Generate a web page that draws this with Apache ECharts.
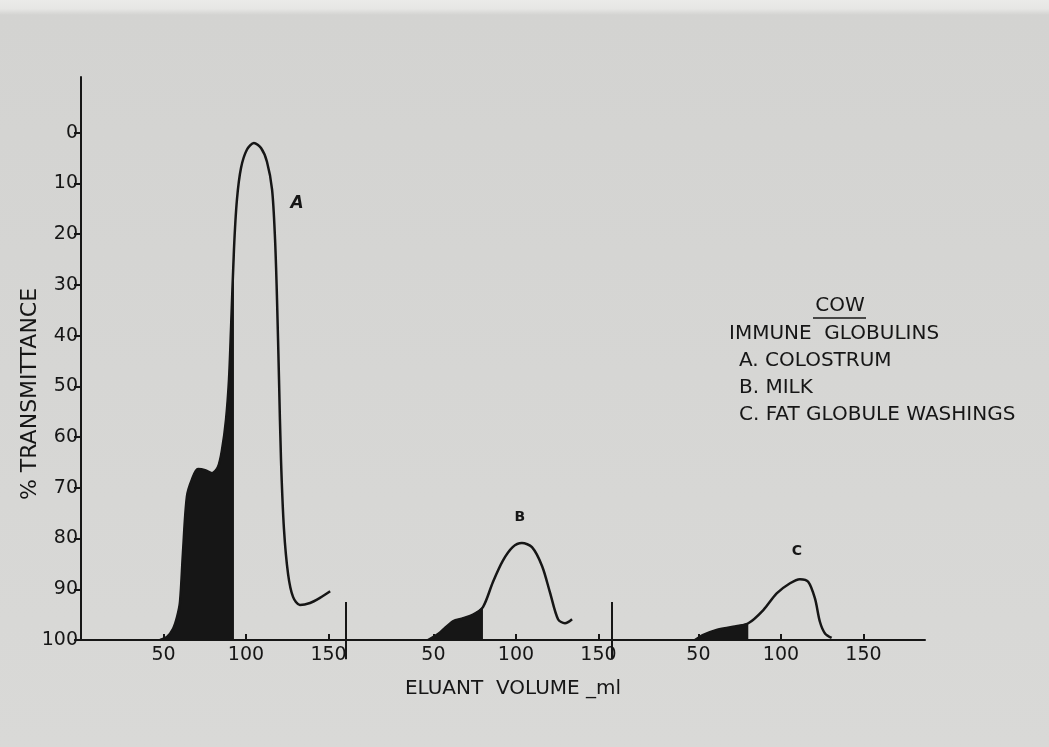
<!DOCTYPE html>
<html>
<head>
<meta charset="utf-8">
<script src="https://cdn.jsdelivr.net/npm/echarts@6/dist/echarts.min.js"></script>
<style>
	html, body { margin: 0; padding: 0; background: #d6d6d4; }
	#chart { width: 1049px; height: 747px; }
</style>
</head>
<body>
<div id="chart"></div>
<script>
	// elution curves, [eluant volume ml, % transmittance]
	var curveA = [
		[47.9, 100], [52.1, 99.4], [55.8, 97.8], [58.2, 95.5], [60, 92.5], [61.8, 82.7],
		[64.2, 71.7], [67.3, 68.3], [70.9, 66.3], [75.2, 66.5], [79.4, 67.1], [83, 65.9],
		[85.5, 62.4], [87.9, 56.5], [89.7, 48.6], [90.9, 38.8], [92.7, 23], [94.5, 13.2],
		[97, 6.9], [100.6, 3.3], [104.8, 2], [109.1, 3], [112.7, 5.7], [115.8, 11.2],
		[117.6, 21], [118.8, 32.9], [120, 48.6], [121.2, 64.4], [123, 78.1], [125.5, 87],
		[128.5, 91.5], [132.7, 93.1], [138.8, 92.7], [144.8, 91.7], [151, 90.4]
	];
	var curveB = [
		[46.7, 100], [54, 98.5], [61.8, 96.3], [68, 95.7], [74, 95], [80, 93.5],
		[86, 88.6], [92, 84.4], [98, 81.7], [103.6, 80.9], [109.7, 81.7], [115.8, 85.4],
		[120.6, 90.6], [125.5, 95.9], [129.7, 96.7], [134, 95.9]
	];
	var curveC = [
		[47.9, 100], [52.9, 99], [61, 98], [71, 97.4], [80.2, 96.7], [89.3, 94.1],
		[97.4, 90.8], [105.5, 88.8], [111.5, 88], [116.5, 88.5], [120.6, 91.8],
		[123.6, 96.4], [126.7, 98.7], [130.7, 99.6]
	];
	// shaded (black) fraction ends at this volume
	var shadeEnd = [92.7, 80, 80.2];
	var curveNames = ['A', 'B', 'C'];
	var namePos = [[131, 14], [102.4, 75.8], [109.7, 82.5]];
	var volumeTicks = [50, 100, 150];
	var transTicks = [0, 10, 20, 30, 40, 50, 60, 70, 80, 90, 100];
	var legendLines = ['IMMUNE  GLOBULINS', 'A. COLOSTRUM', 'B. MILK', 'C. FAT GLOBULE WASHINGS'];

	var ink = '#161616';
	var font = 'DejaVu Sans';
	var chart = echarts.init(document.getElementById('chart'));

	var grids = [
		{ left: 81, top: 77, width: 265, height: 563 },
		{ left: 346, top: 77, width: 266, height: 563 },
		{ left: 612, top: 77, width: 313, height: 563 }
	];
	var xRanges = [[0, 160.6], [-3, 158.2], [-2.4, 187.3]];

	var xAxes = [], yAxes = [], series = [];
	var curves = [curveA, curveB, curveC];
	for (var i = 0; i < 3; i++) {
		xAxes.push({
			type: 'value', gridIndex: i, min: xRanges[i][0], max: xRanges[i][1],
			axisLine: { show: true, onZero: false, lineStyle: { color: ink, width: 2 } },
			axisTick: { show: true, inside: true, length: 6, customValues: volumeTicks, lineStyle: { color: ink, width: 2 } },
			axisLabel: { customValues: volumeTicks, color: ink, fontFamily: font, fontSize: 19, margin: 6 },
			splitLine: { show: false }
		});
		yAxes.push({
			type: 'value', gridIndex: i, min: -11, max: 100, inverse: true,
			show: i === 0,
			axisLine: { show: true, lineStyle: { color: ink, width: 2 } },
			axisTick: { show: true, length: 7, customValues: transTicks, lineStyle: { color: ink, width: 2 } },
			axisLabel: { customValues: transTicks, color: ink, fontFamily: font, fontSize: 19, margin: 3 },
			splitLine: { show: false }
		});
		var pts = curves[i];
		series.push({
			type: 'line', xAxisIndex: i, yAxisIndex: i,
			data: pts.filter(function (p) { return p[0] <= shadeEnd[i]; }),
			smooth: 0.3, symbol: 'none',
			lineStyle: { color: ink, width: 1 },
			areaStyle: { color: ink, opacity: 1, origin: 'end' },
			silent: true, z: 2
		});
		series.push({
			type: 'line', xAxisIndex: i, yAxisIndex: i,
			data: pts,
			smooth: 0.3, symbol: 'none',
			lineStyle: { color: ink, width: 2.5 },
			silent: true, z: 3,
			markPoint: {
				symbol: 'circle', symbolSize: 0, silent: true,
				label: { show: true, formatter: '{b}', color: ink, fontFamily: font, fontWeight: 'bold',
					fontSize: i === 0 ? 17 : 14, fontStyle: i === 0 ? 'italic' : 'normal' },
				data: [{ name: curveNames[i], coord: namePos[i] }]
			}
		});
	}
	// panel dividers standing on the volume axis
	[0, 1].forEach(function (i) {
		series.push({
			type: 'line', xAxisIndex: i, yAxisIndex: i, clip: false,
			data: [[xRanges[i][1], 92.5], [xRanges[i][1], 103.8]],
			symbol: 'none', lineStyle: { color: ink, width: 2 }, silent: true
		});
	});

	var graphic = [
		{ type: 'text', x: 30, y: 394, rotation: Math.PI / 2,
			style: { text: '% TRANSMITTANCE', fill: ink, font: '22px "' + font + '"', align: 'center', verticalAlign: 'middle' } },
		{ type: 'text', x: 513, y: 689,
			style: { text: 'ELUANT  VOLUME _ml', fill: ink, font: '20px "' + font + '"', align: 'center', verticalAlign: 'middle' } },
		{ type: 'text', x: 840, y: 306,
			style: { text: 'COW', fill: ink, font: '20px "' + font + '"', align: 'center', verticalAlign: 'middle' } },
		{ type: 'line', shape: { x1: 813, y1: 318, x2: 866, y2: 318 }, style: { stroke: ink, lineWidth: 1.5 } }
	];
	legendLines.forEach(function (t, k) {
		graphic.push({ type: 'text', x: k === 0 ? 729 : 739, y: 334 + k * 27,
			style: { text: t, fill: ink, font: '20px "' + font + '"', align: 'left', verticalAlign: 'middle' } });
	});

	chart.setOption({
		// photographed paper: pale strip along the top edge
		backgroundColor: {
			type: 'linear', x: 0, y: 0, x2: 0, y2: 1,
			colorStops: [
				{ offset: 0, color: '#ebebe9' },
				{ offset: 0.012, color: '#e6e6e4' },
				{ offset: 0.02, color: '#d3d3d1' },
				{ offset: 0.5, color: '#d6d6d4' },
				{ offset: 1, color: '#d9d9d7' }
			]
		},
		animation: false,
		grid: grids,
		xAxis: xAxes,
		yAxis: yAxes,
		series: series,
		graphic: graphic
	});
</script>
</body>
</html>
